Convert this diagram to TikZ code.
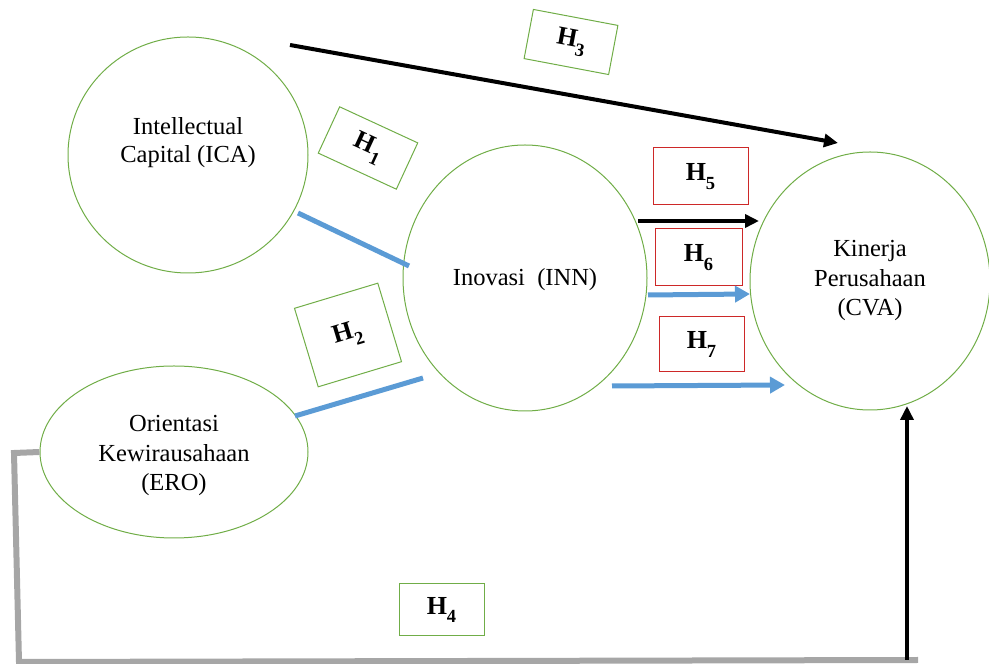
\documentclass[tikz,border=0pt]{standalone}
\usepackage{fontspec}
\setmainfont{Liberation Serif}
\usetikzlibrary{shapes.geometric,arrows.meta}
\definecolor{hgreen}{RGB}{112,173,71}
\definecolor{hblue}{RGB}{91,155,213}
\definecolor{hred}{RGB}{205,40,40}
\definecolor{hgray}{RGB}{166,166,166}
\newcommand{\hyp}[1]{\textbf{H\raisebox{-0.34em}{\fontsize{18.5}{18.5}\selectfont #1}}}
\begin{document}
\begin{tikzpicture}[x=1pt,y=1pt,
  ell/.style={draw=hgreen, line width=1pt, ellipse, inner sep=0pt},
  txt/.style={inner sep=0pt, align=center, font=\fontsize{24.5}{29.5}\selectfont},
  gbox/.style={draw=hgreen, line width=1pt, inner sep=0pt, font=\fontsize{26}{28}\selectfont},
  rbox/.style={draw=hred, line width=1pt, inner sep=0pt, font=\fontsize{26}{28}\selectfont},
  blk/.style={draw=black, line width=4pt, -{Triangle[length=14pt,width=13pt]}},
  blu/.style={draw=hblue, line width=5pt},
  bluarr/.style={draw=hblue, line width=5pt, -{Triangle[length=15pt,width=16pt]}},
  gry/.style={draw=hgray, line width=6pt}]
\useasboundingbox (0,0) rectangle (989,664);
% ellipses
\node[ell, minimum width=240pt, minimum height=236pt] (ica) at (188,509) {};
\node[ell, minimum width=244pt, minimum height=266pt] (inn) at (525,386) {};
\node[ell, minimum width=240pt, minimum height=258pt] (cva) at (870,383) {};
\node[ell, minimum width=268pt, minimum height=172pt] (ero) at (174,212) {};
% texts
\node[txt, font=\fontsize{24.5}{28}\selectfont] (icat) at (188,521) {Intellectual\\Capital (ICA)};
\node[txt] (innt) at (525,384) {Inovasi~~(INN)};
\node[txt] (cvat) at (870,383) {Kinerja\\Perusahaan\\(CVA)};
\node[txt] (erot) at (174,208) {Orientasi\\Kewirausahaan\\(ERO)};
% hypothesis boxes
\node[gbox, minimum width=86pt, minimum height=50pt, rotate=-10.7] (h3) at (571,622) {\hyp{3}};
\node[gbox, minimum width=86pt, minimum height=51pt, rotate=-24.8] (h1) at (368,516) {\hyp{1}};
\node[gbox, minimum width=87pt, minimum height=82pt, rotate=16.8] (h2) at (348,329) {\hyp{2}};
\node[rbox, minimum width=95pt, minimum height=57pt] (h5) at (700.5,487.5) {\hyp{5}};
\node[rbox, minimum width=87pt, minimum height=57pt] (h6) at (698.5,406.5) {\hyp{6}};
\node[rbox, minimum width=85pt, minimum height=55pt] (h7) at (701.5,319.5) {\hyp{7}};
\node[gbox, minimum width=85pt, minimum height=52pt] (h4) at (441.5,54) {\hyp{4}};
% connector end points
\coordinate (icaA) at (290,619);
\coordinate (cvaA) at (838,521);
\coordinate (icaB) at (298,451);
\coordinate (innB) at (409,398);
\coordinate (eroC) at (295,248);
\coordinate (innC) at (423,286);
\coordinate (innD) at (638,443);
\coordinate (cvaD) at (759,443);
\coordinate (innE) at (648,369);
\coordinate (cvaE) at (750,370);
\coordinate (innF) at (612,278);
\coordinate (cvaF) at (785,279);
\coordinate (c1) at (14,211);
\coordinate (c2) at (19,2);
\coordinate (c3) at (907,4);
\coordinate (cvaG) at (907,258);
% connectors
\draw[blk] (icaA) -- (cvaA);
\draw[blu] (icaB) -- (innB);
\draw[blu] (eroC) -- (innC);
\draw[blk] (innD) -- (cvaD);
\draw[bluarr] (innE) -- (cvaE);
\draw[bluarr] (innF) -- (cvaF);
\draw[gry] (ero.west) -- (c1) -- (c2) -- ([xshift=11pt]c3);
\draw[blk] (c3) -- (cvaG);
\end{tikzpicture}
\end{document}
